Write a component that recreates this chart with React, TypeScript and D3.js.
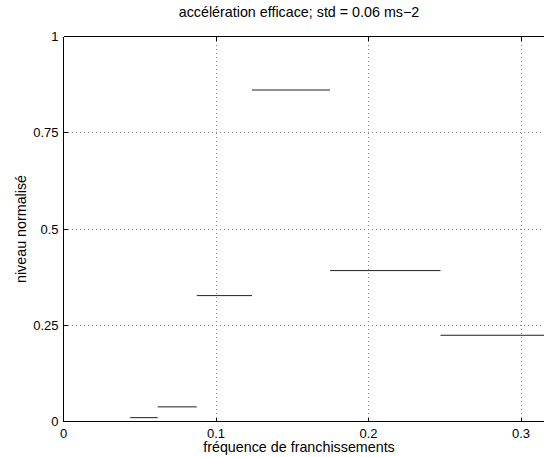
import React from "react";
import * as d3 from "d3";

const binEdges = [0.0437, 0.0618, 0.0874, 0.1236, 0.1748, 0.2472, 0.3496];
const levels = [0.01, 0.038, 0.327, 0.861, 0.392, 0.224];
const xTicks = [0, 0.1, 0.2, 0.3];
const yTicks = [0, 0.25, 0.5, 0.75, 1];
const yTickLabels = ["0", "0.25", "0.5", "0.75", "1"];
const titleText = "accélération efficace; std = 0.06 ms\u22122";
const xLabel = "fréquence de franchissements";
const yLabel = "niveau normalisé";

const W = 544;
const H = 457;
const left = 63.5;
const top = 36.5;
const bottom = 421.5;

export default function App() {
  const x = d3.scaleLinear().domain([0, 0.35]).range([left, left + 0.35 * 1525]);
  const y = d3.scaleLinear().domain([0, 1]).range([bottom, top]);
  const right = x(0.35);
  const font = "'Liberation Sans', Arial, Helvetica, sans-serif";
  const segs = levels.map((v, i) => ({ x0: binEdges[i], x1: binEdges[i + 1], v }));
  return (
    <svg
      width={W}
      height={H}
      style={{ position: "absolute", left: 0, top: 0, background: "#fff" }}
      fontFamily={font}
    >
      <rect x={0} y={0} width={W} height={H} fill="#fff" />
      {xTicks.slice(1).map((t) => (
        <line
          key={"gx" + t}
          x1={x(t)}
          x2={x(t)}
          y1={top}
          y2={bottom}
          stroke="#888"
          strokeWidth={1}
          strokeDasharray="1,3"
          shapeRendering="crispEdges"
        />
      ))}
      {yTicks.slice(1, -1).map((t) => (
        <line
          key={"gy" + t}
          x1={left}
          x2={right}
          y1={y(t)}
          y2={y(t)}
          stroke="#888"
          strokeWidth={1}
          strokeDasharray="1,3"
          shapeRendering="crispEdges"
        />
      ))}
      {segs.map((s, i) => (
        <line
          key={"s" + i}
          x1={x(s.x0)}
          x2={x(s.x1)}
          y1={y(s.v)}
          y2={y(s.v)}
          stroke="#222"
          strokeWidth={1}
        />
      ))}
      <line x1={left} x2={right} y1={top} y2={top} stroke="#000" strokeWidth={1} shapeRendering="crispEdges" />
      <line x1={left} x2={right} y1={bottom} y2={bottom} stroke="#000" strokeWidth={1.5} shapeRendering="crispEdges" />
      <line x1={left} x2={left} y1={top} y2={bottom} stroke="#000" strokeWidth={1.5} shapeRendering="crispEdges" />
      {xTicks.map((t) => (
        <g key={"tx" + t}>
          <line x1={x(t)} x2={x(t)} y1={bottom} y2={bottom - 4} stroke="#000" shapeRendering="crispEdges" />
          <line x1={x(t)} x2={x(t)} y1={top} y2={top + 4} stroke="#000" shapeRendering="crispEdges" />
          <text x={x(t)} y={bottom + 16} fontSize={13} textAnchor="middle" fill="#000">
            {String(t)}
          </text>
        </g>
      ))}
      {yTicks.map((t, i) => (
        <g key={"ty" + t}>
          <line x1={left} x2={left + 4} y1={y(t)} y2={y(t)} stroke="#000" shapeRendering="crispEdges" />
          <text x={left - 5} y={y(t) + 4.5} fontSize={13} textAnchor="end" fill="#000">
            {yTickLabels[i]}
          </text>
        </g>
      ))}
      <text x={299} y={17} fontSize={14.3} textAnchor="middle" fill="#000">
        {titleText}
      </text>
      <text x={299} y={452} fontSize={14.3} textAnchor="middle" fill="#000">
        {xLabel}
      </text>
      <text
        transform={`translate(26, ${(top + bottom) / 2}) rotate(-90)`}
        fontSize={14.3}
        textAnchor="middle"
        fill="#000"
      >
        {yLabel}
      </text>
    </svg>
  );
}
